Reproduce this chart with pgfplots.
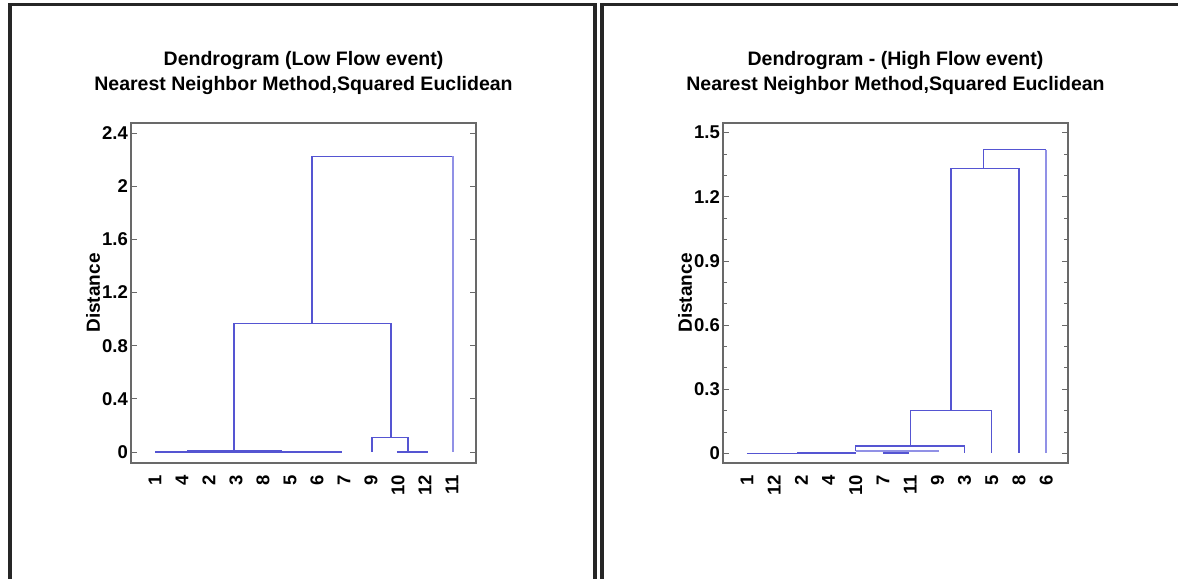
\documentclass[border=0pt]{standalone}
\usepackage{fontspec}
\setmainfont{Liberation Sans}
\usepackage{pgfplots}
\pgfplotsset{compat=1.18}
\definecolor{dendro}{RGB}{85,85,210}
\definecolor{dendrolight}{RGB}{145,145,230}
\definecolor{axisgray}{RGB}{105,105,105}
\pgfplotsset{
  dendrostyle/.style={
    scale only axis,
    width=345bp, height=340bp,
    axis line style={axisgray, line width=1.3bp},
    tick align=inside,
    major tick length=6bp,
    minor tick length=4bp,
    every tick/.style={axisgray, line width=0.8bp},
    xtick={0,...,11},
    xtick style={draw=none},
    /pgf/number format/assume math mode=true,
    tick label style={font=\fontsize{18.5bp}{22bp}\selectfont\bfseries},
    xticklabel style={rotate=90, anchor=east, inner sep=0pt},
    xticklabel shift=12bp,
    yticklabel style={anchor=east, inner sep=0pt},
    yticklabel shift=3bp,
    ylabel={Distance},
    ylabel style={at={(axis description cs:0,0.5)}, anchor=center, yshift=38bp, font=\fontsize{19bp}{22bp}\selectfont\bfseries},
    title style={at={(axis description cs:0.5,1)}, anchor=south, yshift=19bp, align=center, font=\fontsize{19.5bp}{25bp}\selectfont\bfseries},
    clip=false,
  },
  dline/.style={dendro, line width=1.3bp, no marks},
  lline/.style={dendrolight, line width=1.6bp, no marks},
}
\begin{document}
\begin{tikzpicture}
\path[use as bounding box] (0bp,0bp) rectangle (1178bp,579bp);
% outer frames
\draw[black!85, line width=3.2bp] (10bp,-5bp) -- (10bp,574.5bp) -- (595bp,574.5bp) -- (595bp,-5bp);
\draw[black!85, line width=3.2bp] (602bp,-5bp) -- (602bp,574.5bp) -- (1190bp,574.5bp);
% Left panel
\begin{axis}[dendrostyle,
  at={(131bp,116bp)}, anchor=south west,
  xmin=-0.89, xmax=11.89, ymin=-0.083, ymax=2.476,
  ytick={0,0.4,0.8,1.2,1.6,2,2.4},
  yticklabels={0,0.4,0.8,1.2,1.6,2,2.4},
  xticklabels={1,4,2,3,8,5,6,7,9,10,12,11},
  title={Dendrogram (Low Flow event)\\Nearest Neighbor Method,Squared Euclidean},
]
\addplot[dline] coordinates {(0,0) (6.93,0)};
\addplot[dline] coordinates {(1.2,0.012) (4.7,0.012)};
\addplot[dline] coordinates {(2.93,0.012) (2.93,0.967) (8.74,0.967) (8.74,0.109)};
\addplot[dline] coordinates {(8.04,0) (8.04,0.109) (9.37,0.109) (9.37,0)};
\addplot[dline] coordinates {(8.96,0) (10.1,0)};
\addplot[dline] coordinates {(5.81,0.967) (5.81,2.224) (11.04,2.224)};
\addplot[lline] coordinates {(11.04,2.224) (11.04,0)};
\end{axis}
% Right panel
\begin{axis}[dendrostyle,
  at={(723bp,116bp)}, anchor=south west,
  xmin=-0.88, xmax=11.8, ymin=-0.045, ymax=1.545,
  ytick={0,0.3,0.6,0.9,1.2,1.5},
  yticklabels={0,0.3,0.6,0.9,1.2,1.5},
  minor ytick={0.1,0.2,0.4,0.5,0.7,0.8,1.0,1.1,1.3,1.4},
  xticklabels={1,12,2,4,10,7,11,9,3,5,8,6},
  title={Dendrogram - (High Flow event)\\Nearest Neighbor Method,Squared Euclidean},
]
\addplot[dline] coordinates {(8.70,1.333) (8.70,1.42) (11,1.42)};
\addplot[lline] coordinates {(11,1.42) (11,0)};
\addplot[dline] coordinates {(7.5,0.2) (7.5,1.333) (10,1.333) (10,0)};
\addplot[dline] coordinates {(6,0.035) (6,0.2) (9,0.2) (9,0)};
\addplot[dline] coordinates {(4,0.01) (4,0.035) (8,0.035) (8,0)};
\addplot[lline] coordinates {(4,0.01) (7.05,0.01)};
\addplot[dline] coordinates {(0,0) (4,0)};
\addplot[dendro, line width=1.9bp, no marks] coordinates {(1.84,0) (4,0)};
\addplot[dendro, line width=1.9bp, no marks] coordinates {(5,0) (5.94,0)};
\end{axis}
\end{tikzpicture}
\end{document}
